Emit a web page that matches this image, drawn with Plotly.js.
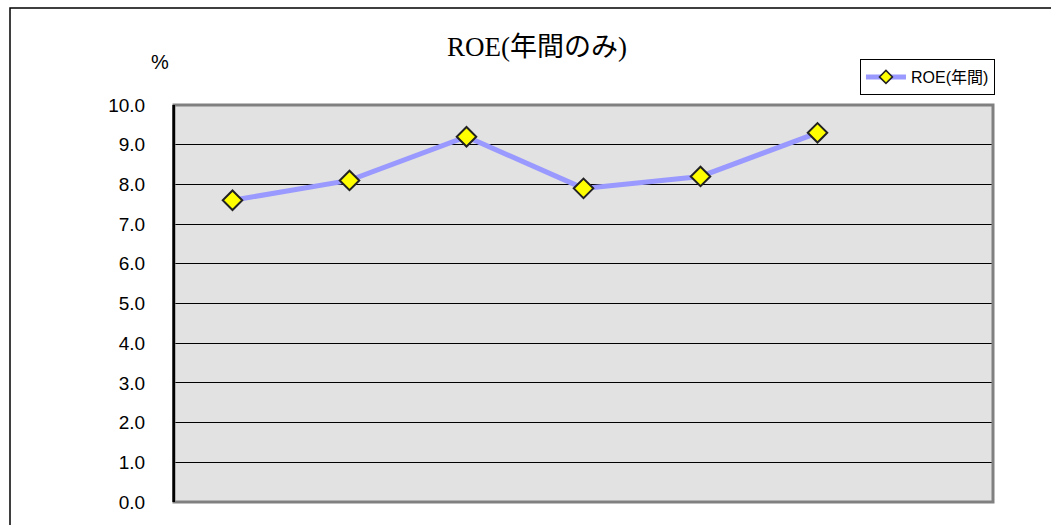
<!DOCTYPE html>
<html><head><meta charset="utf-8">
<script src="https://cdn.plot.ly/plotly-3.0.1.min.js"></script>
<style>html,body{margin:0;padding:0;background:#fff}#chart{width:1051px;height:525px}</style>
</head><body><div id="chart"></div>
<script>
const categories = [1, 2, 3, 4, 5, 6];
const roeValues = [7.6, 8.1, 9.2, 7.9, 8.2, 9.3];
const seriesName = "ROE(年間)";
const chartTitle = "ROE(年間のみ)";
const yTickValues = [0,1,2,3,4,5,6,7,8,9,10];
const yTickLabels = ["0.0","1.0","2.0","3.0","4.0","5.0","6.0","7.0","8.0","9.0","10.0"];

const trace = {
  x: categories, y: roeValues, name: seriesName, type: 'scatter', mode: 'lines+markers',
  line: {color: '#9999ff', width: 5},
  marker: {symbol: 'diamond', size: 15, color: '#ffff00', line: {color: '#222', width: 2}},
  showlegend: false
};
const legendTrace = {
  x: [null], y: [null], name: seriesName, type: 'scatter', mode: 'lines+markers',
  line: {color: '#9999ff', width: 5},
  marker: {symbol: 'diamond', size: 10, color: '#ffff00', line: {color: '#222', width: 1.5}},
  showlegend: true, hoverinfo: 'skip'
};
const layout = {
  width: 1051, height: 525,
  margin: {l: 174, r: 58, t: 105, b: 23},
  paper_bgcolor: '#ffffff', plot_bgcolor: '#e2e2e2',
  font: {family: 'Liberation Sans, Arial, Noto Sans CJK JP, sans-serif', color: '#000'},
  title: {text: chartTitle, font: {family: 'Liberation Serif, Noto Sans CJK JP, serif', size: 27, color: '#000'},
          xref: 'container', x: 0.511, xanchor: 'center', yref: 'container', y: 1 - 47/525, yanchor: 'middle'},
  xaxis: {range: [0.5, 7.5], showticklabels: false, showgrid: false, zeroline: false, ticks: '', fixedrange: true},
  yaxis: {range: [0, 10], tickvals: yTickValues, ticktext: yTickLabels, showgrid: true, gridcolor: '#000', gridwidth: 1,
          zeroline: false, showline: true, linecolor: '#000', linewidth: 2, ticks: '', ticklabelstandoff: 23,
          tickfont: {size: 19, color: '#000'}},
  legend: {x: 1.0024, xanchor: 'right', y: (502-59)/397, yanchor: 'top', bgcolor: '#fff', bordercolor: '#000', borderwidth: 1,
           font: {size: 16, color: '#000'}, itemwidth: 40, tracegroupgap: 0},
  annotations: [{text: '%', xref: 'paper', yref: 'paper', x: (160-174)/819, y: (502-62)/397, showarrow: false,
                 font: {size: 20, color: '#000'}, xanchor: 'center', yanchor: 'middle'}],
  shapes: [
    {type: 'rect', xref: 'paper', yref: 'paper', x0: 0, x1: 1, y0: 0, y1: 1, line: {color: '#808080', width: 3}, layer: 'above'},
    {type: 'line', xref: 'paper', yref: 'paper', x0: 0, x1: 0, y0: 0, y1: 1, line: {color: '#000', width: 2}, layer: 'above'},
    {type: 'rect', xref: 'paper', yref: 'paper', x0: (10-174)/819, x1: 1.2, y0: -0.2, y1: (502-8)/397, line: {color: '#000', width: 1.5}, layer: 'below'}
  ]
};
Plotly.newPlot('chart', [trace, legendTrace], layout, {displayModeBar: false, staticPlot: true});
</script></body></html>
